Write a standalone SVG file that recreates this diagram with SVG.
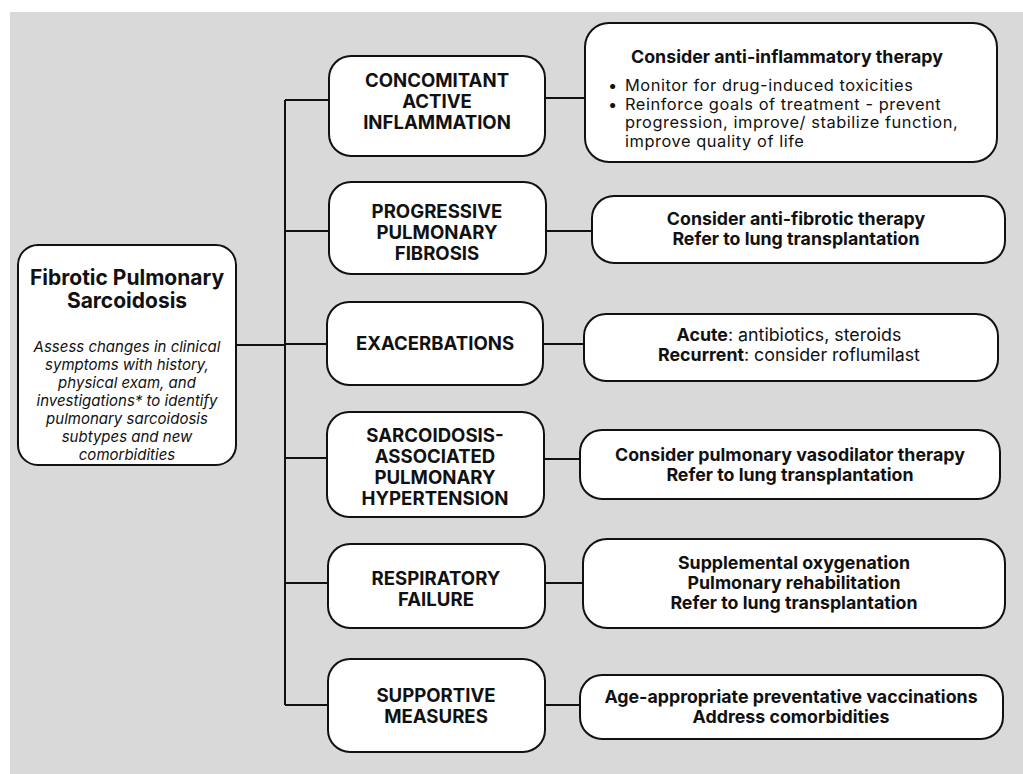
<svg xmlns="http://www.w3.org/2000/svg" width="1023" height="774" viewBox="0 0 1023 774">
<style>
.box{fill:#fff;stroke:#111;stroke-width:2}
.con{stroke:#111;stroke-width:2;fill:none}
text{font-family:Inter,"Open Sans","Liberation Sans",sans-serif;fill:#111}
.lbl{font-size:18.6px;font-weight:700;text-anchor:middle}
.rb{font-size:17.8px;font-weight:700;text-anchor:middle}
.rr{font-size:17.8px;font-weight:400;text-anchor:middle}
.bul{font-size:16.4px;font-weight:400;letter-spacing:0.55px}
.ttl{font-size:21px;font-weight:700;text-anchor:middle}
.it{font-size:15px;font-style:italic;text-anchor:middle}
</style>
<rect x="0" y="0" width="1023" height="774" fill="#fff"/>
<rect x="10" y="12" width="1013" height="762" fill="#d9d9d9"/>
<g id="connectors">
<path class="con" d="M236 345H285M285 100V705M285 100H329M285 231H329M285 344H327M285 458H327M285 583H328M285 705H328"/>
<path class="con" d="M545 98H585M546 231H592M543 344H584M544 459H580M545 583H583M545 705H580"/>
</g>
<g id="main">
<rect class="box" x="18" y="245" width="218" height="220" rx="20"/>
<text class="ttl" x="127" y="285">Fibrotic Pulmonary</text>
<text class="ttl" x="127" y="308">Sarcoidosis</text>
<text class="it" x="127" y="352">Assess changes in clinical</text>
<text class="it" x="127" y="370">symptoms with history,</text>
<text class="it" x="127" y="388">physical exam, and</text>
<text class="it" x="127" y="406">investigations* to identify</text>
<text class="it" x="127" y="424">pulmonary sarcoidosis</text>
<text class="it" x="127" y="442">subtypes and new</text>
<text class="it" x="127" y="460">comorbidities</text>
</g>
<g id="n-concomitant">
<rect class="box" x="329" y="56" width="216" height="100" rx="22"/>
<text class="lbl" x="437" y="87">CONCOMITANT</text>
<text class="lbl" x="437" y="108">ACTIVE</text>
<text class="lbl" x="437" y="129">INFLAMMATION</text>
</g>
<g id="n-progressive">
<rect class="box" x="329" y="182" width="217" height="92" rx="22"/>
<text class="lbl" x="437" y="218">PROGRESSIVE</text>
<text class="lbl" x="437" y="239">PULMONARY</text>
<text class="lbl" x="437" y="260">FIBROSIS</text>
</g>
<g id="n-exacerbations">
<rect class="box" x="327" y="302" width="216" height="83" rx="22"/>
<text class="lbl" x="435" y="350">EXACERBATIONS</text>
</g>
<g id="n-sarcoidosis">
<rect class="box" x="327" y="412" width="217" height="105" rx="22"/>
<text class="lbl" x="435" y="442">SARCOIDOSIS-</text>
<text class="lbl" x="435" y="463">ASSOCIATED</text>
<text class="lbl" x="435" y="484">PULMONARY</text>
<text class="lbl" x="435" y="505">HYPERTENSION</text>
</g>
<g id="n-respiratory">
<rect class="box" x="328" y="544" width="217" height="84" rx="22"/>
<text class="lbl" x="436" y="585">RESPIRATORY</text>
<text class="lbl" x="436" y="606">FAILURE</text>
</g>
<g id="n-supportive">
<rect class="box" x="328" y="659" width="217" height="93" rx="22"/>
<text class="lbl" x="436" y="702">SUPPORTIVE</text>
<text class="lbl" x="436" y="723">MEASURES</text>
</g>
<g id="r-antiinflammatory">
<rect class="box" x="585" y="23" width="412" height="139" rx="24"/>
<text class="rb" x="787" y="63">Consider anti-inflammatory therapy</text>
<text class="bul" x="608" y="91">•</text>
<text class="bul" x="625" y="91">Monitor for drug-induced toxicities</text>
<text class="bul" x="608" y="109.5">•</text>
<text class="bul" x="625" y="109.5">Reinforce goals of treatment - prevent</text>
<text class="bul" x="625" y="128">progression, improve/ stabilize function,</text>
<text class="bul" x="625" y="146.5">improve quality of life</text>
</g>
<g id="r-antifibrotic">
<rect class="box" x="592" y="196" width="413" height="67" rx="22"/>
<text class="rb" x="796" y="225">Consider anti-fibrotic therapy</text>
<text class="rb" x="796" y="245">Refer to lung transplantation</text>
</g>
<g id="r-exacerbations">
<rect class="box" x="584" y="314" width="414" height="67" rx="22"/>
<text class="rr" x="789" y="341"><tspan font-weight="700">Acute</tspan>: antibiotics, steroids</text>
<text class="rr" x="789" y="361"><tspan font-weight="700">Recurrent</tspan>: consider roflumilast</text>
</g>
<g id="r-vasodilator">
<rect class="box" x="580" y="430" width="420" height="69" rx="22"/>
<text class="rb" x="790" y="461">Consider pulmonary vasodilator therapy</text>
<text class="rb" x="790" y="481">Refer to lung transplantation</text>
</g>
<g id="r-respiratory">
<rect class="box" x="583" y="539" width="422" height="89" rx="24"/>
<text class="rb" x="794" y="569">Supplemental oxygenation</text>
<text class="rb" x="794" y="589">Pulmonary rehabilitation</text>
<text class="rb" x="794" y="609">Refer to lung transplantation</text>
</g>
<g id="r-supportive">
<rect class="box" x="580" y="675" width="423" height="64" rx="22"/>
<text class="rb" x="791" y="703">Age-appropriate preventative vaccinations</text>
<text class="rb" x="791" y="723">Address comorbidities</text>
</g>
</svg>
